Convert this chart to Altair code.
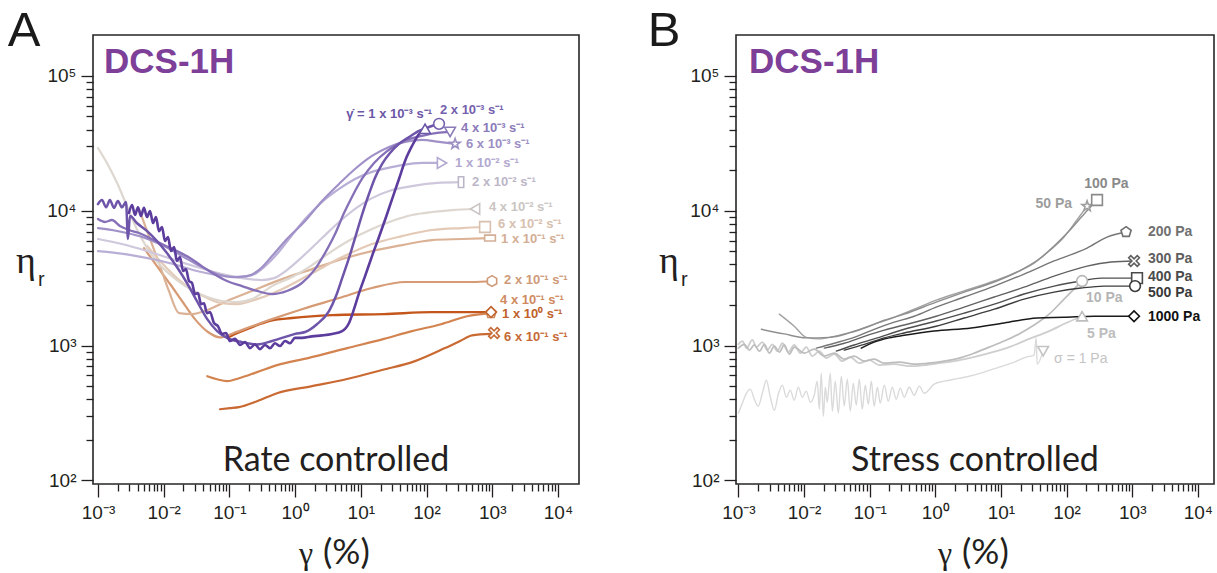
import altair as alt
import pandas as pd

INK = "#231f20"

# ---------------- Panel A : rate controlled ----------------
rate_names = ["1e-3", "2e-3", "4e-3", "6e-3", "1e-2", "2e-2", "4e-2", "6e-2",
              "1e-1", "2e-1", "4e-1", "6e-1", "1e0"]

g_a1 = [2.96e-3, 3.30e-3, 3.66e-3, 4.06e-3, 4.51e-3, 5.01e-3, 5.57e-3, 6.19e-3, 6.87e-3, 7.63e-3,
        8.47e-3, 9.42e-3, 1.047e-2, 1.163e-2, 1.29e-2, 1.44e-2, 1.59e-2, 1.77e-2, 1.97e-2, 2.18e-2,
        2.43e-2, 2.70e-2, 2.99e-2, 3.33e-2, 3.70e-2, 4.10e-2, 4.56e-2, 5.07e-2, 5.83e-2, 6.71e-2,
        7.7e-2, 8.87e-2, 0.102, 0.122, 0.145, 0.173, 0.206, 0.245, 0.292, 0.348, 0.415, 0.494,
        0.589, 0.702, 0.836, 0.995, 1.27, 1.81, 2.57, 3.65, 5.2, 6.61, 7.87, 9.39, 11.6, 14.8,
        18.9, 24.2, 29.9, 38.1, 47.1, 60.1, 76.9, 94.9]
eta_a1 = [9.62e3, 1.10e4, 9.29e3, 1.06e4, 9.14e3, 1.05e4, 8.98e3, 9.96e3, 8.11e3, 8.98e3,
          7.06e3, 7.57e3, 5.96e3, 6.38e3, 5.02e3, 5.38e3, 4.24e3, 4.53e3, 3.57e3, 3.69e3,
          3.01e3, 2.91e3, 2.41e3, 2.45e3, 2.03e3, 2.06e3, 1.74e3, 1.77e3, 1.47e3, 1.39e3,
          1.22e3, 1.24e3, 1.08e3, 1.12e3, 1.01e3, 1.06e3, 957, 1.02e3, 940, 1.01e3, 957, 1.04e3,
          991, 1.08e3, 1.04e3, 1.14e3, 1.14e3, 1.17e3, 1.19e3, 1.22e3, 1.28e3, 1.47e3, 1.86e3,
          2.45e3, 3.27e3, 4.61e3, 6.38e3, 8.98e3, 1.22e4, 1.72e4, 2.34e4, 3.02e4, 3.71e4, 4.05e4]

g_a2 = [1.0e-3, 1.15e-3, 1.33e-3, 1.52e-3, 1.75e-3, 2.01e-3, 2.32e-3, 2.67e-3, 2.86e-3, 3.07e-3,
        3.9e-3, 5.6e-3, 7.9e-3, 1.12e-2, 1.59e-2, 2.26e-2, 3.2e-2, 4.6e-2, 6.5e-2, 9.2e-2, 0.156,
        0.263, 0.445, 0.75, 0.995, 1.42, 2.15, 3.28, 4.19, 5.2, 6.61, 8.16, 10.4, 13.3, 16.4, 21.0,
        27.8, 38.1, 54.1, 76.9, 109, 155]
eta_a2 = [1.12e4, 1.20e4, 1.06e4, 1.20e4, 1.05e4, 1.18e4, 1.06e4, 1.16e4, 6.17e3, 9.14e3,
          8.11e3, 7.06e3, 5.96e3, 4.85e3, 3.82e3, 2.91e3, 2.14e3, 1.57e3, 1.28e3, 1.14e3, 1.06e3,
          1.02e3, 1.08e3, 1.17e3, 1.22e3, 1.26e3, 1.44e3, 1.80e3, 2.33e3, 3.16e3, 4.46e3, 6.27e3,
          9.29e3, 1.33e4, 1.75e4, 2.22e4, 2.68e4, 3.13e4, 3.52e4, 3.91e4, 4.18e4, 4.41e4]

g_a3 = [1.0e-3, 1.28e-3, 1.63e-3, 2.16e-3, 2.96e-3, 4.21e-3, 6.6e-3, 1.01e-2, 1.59e-2, 2.51e-2,
        3.8e-2, 5.83e-2, 9.2e-2, 0.156, 0.263, 0.445, 0.75, 1.27, 2.01, 2.85, 4.05, 5.55, 7.3,
        10.4, 15.9, 25.1, 42.4, 85.4, 145, 228]
eta_a3 = [8.68e3, 8.25e3, 8.53e3, 7.70e3, 7.19e3, 6.83e3, 6.17e3, 5.56e3, 5.02e3, 4.46e3,
          3.88e3, 3.39e3, 3.01e3, 2.76e3, 2.54e3, 2.41e3, 2.54e3, 2.91e3, 3.69e3, 4.85e3, 6.71e3,
          9.62e3, 1.26e4, 1.72e4, 2.26e4, 2.77e4, 3.24e4, 3.59e4, 3.78e4, 3.84e4]

g_a4 = [1.0e-3, 1.63e-3, 2.76e-3, 4.7e-3, 9.4e-3, 1.90e-2, 3.8e-2, 6.5e-2, 0.110, 0.185, 0.292,
        0.445, 0.75, 1.42, 2.57, 4.66, 8.16, 14.8, 26.9, 47.1, 85.4, 155, 272]
eta_a4 = [7.44e3, 7.19e3, 6.83e3, 6.38e3, 5.56e3, 4.61e3, 3.82e3, 3.39e3, 3.22e3, 3.27e3, 3.69e3,
          4.61e3, 6.17e3, 8.39e3, 1.18e4, 1.58e4, 2.04e4, 2.55e4, 2.97e4, 3.24e4, 3.35e4, 3.24e4,
          3.13e4]

g_a5 = [1.0e-3, 1.95e-3, 3.9e-3, 7.9e-3, 1.59e-2, 3.2e-2, 6.5e-2, 0.131, 0.221, 0.336, 0.53,
        0.808, 1.42, 2.57, 4.66, 8.16, 14.8, 25.1, 42.4, 85.4, 172]
eta_a5 = [5.02e3, 4.85e3, 4.61e3, 4.31e3, 3.95e3, 3.57e3, 3.33e3, 3.22e3, 3.33e3, 3.82e3, 4.77e3,
          6.17e3, 8.68e3, 1.16e4, 1.45e4, 1.72e4, 1.94e4, 2.07e4, 2.18e4, 2.26e4, 2.26e4]

g_a6 = [1.0e-3, 2.32e-3, 5.6e-3, 1.34e-2, 3.2e-2, 7.7e-2, 0.156, 0.313, 0.477, 0.75, 1.27, 2.57,
        4.66, 8.8, 14.8, 26.9, 60.1, 145, 335]
eta_a6 = [6.17e3, 5.66e3, 5.02e3, 4.38e3, 3.82e3, 3.39e3, 3.16e3, 3.06e3, 3.16e3, 3.63e3, 4.53e3,
          6.27e3, 8.25e3, 1.06e4, 1.24e4, 1.40e4, 1.52e4, 1.61e4, 1.63e4]

g_a7 = [1.0e-3, 1.37e-3, 1.95e-3, 2.76e-3, 3.9e-3, 5.6e-3, 9.4e-3, 1.59e-2, 2.70e-2, 4.6e-2,
        7.7e-2, 0.131, 0.221, 0.445, 0.90, 1.81, 3.65, 7.3, 14.8, 29.9, 60.1, 121, 244, 547]
eta_a7 = [2.92e4, 2.26e4, 1.61e4, 1.08e4, 7.31e3, 5.28e3, 3.82e3, 3.06e3, 2.58e3, 2.29e3,
          2.14e3, 2.10e3, 2.21e3, 2.76e3, 3.22e3, 3.95e3, 5.02e3, 6.17e3, 7.31e3, 8.39e3, 9.29e3,
          9.78e3, 1.01e4, 1.03e4]

g_a8 = [5.6e-3, 9.4e-3, 1.59e-2, 2.70e-2, 4.6e-2, 7.7e-2, 0.131, 0.263, 0.63, 1.81, 5.2, 14.8,
        42.4, 121, 347, 776]
eta_a8 = [5.47e3, 4.09e3, 3.16e3, 2.58e3, 2.25e3, 2.06e3, 2.03e3, 2.21e3, 2.62e3, 3.44e3, 4.53e3,
          5.66e3, 6.48e3, 7.19e3, 7.44e3, 7.57e3]

g_a9 = [4.21e-3, 5.97e-3, 8.47e-3, 1.20e-2, 1.71e-2, 2.70e-2, 4.6e-2, 9.2e-2, 0.221, 0.63, 1.81,
        5.2, 14.8, 42.4, 121, 347, 925]
eta_a9 = [1.03e4, 6.48e3, 4.09e3, 2.54e3, 1.74e3, 1.71e3, 1.83e3, 2.14e3, 2.54e3, 3.11e3, 3.69e3,
          4.38e3, 5.02e3, 5.56e3, 6.06e3, 6.17e3, 6.27e3]

g_a10 = [5.01e-3, 7.9e-3, 1.25e-2, 1.90e-2, 2.99e-2, 4.72e-2, 7.19e-2, 0.117, 0.221, 0.445, 1.27,
         4.66, 14.8, 47.1, 244, 493, 993]
eta_a10 = [5.28e3, 3.88e3, 2.86e3, 2.14e3, 1.57e3, 1.26e3, 1.15e3, 1.24e3, 1.39e3, 1.57e3, 1.86e3,
           2.25e3, 2.67e3, 2.96e3, 2.96e3, 2.96e3, 3.01e3]

g_a11 = [4.6e-2, 6.5e-2, 9.2e-2, 0.140, 0.263, 0.53, 1.57, 6.2, 22.5, 60.1, 166, 413, 959]
eta_a11 = [592, 562, 544, 572, 635, 716, 807, 957, 1.12e3, 1.28e3, 1.44e3, 1.65e3, 1.74e3]

g_a12 = [7.19e-2, 0.102, 0.140, 0.263, 0.53, 1.81, 5.96, 21.0, 66.8, 191, 324, 493, 959]
eta_a12 = [337, 343, 349, 386, 443, 500, 562, 658, 766, 957, 1.08e3, 1.19e3, 1.22e3]

g_a13 = [9.2e-2, 0.145, 0.237, 0.401, 0.90, 3.65, 22.5, 121, 959]
eta_a13 = [1.14e3, 1.26e3, 1.39e3, 1.52e3, 1.60e3, 1.68e3, 1.71e3, 1.77e3, 1.77e3]

rate_labels = ["γ̇ = 1 x 10⁻³ s⁻¹", "2 x 10⁻³ s⁻¹", "4 x 10⁻³ s⁻¹", "6 x 10⁻³ s⁻¹",
               "1 x 10⁻² s⁻¹", "2 x 10⁻² s⁻¹", "4 x 10⁻² s⁻¹", "6 x 10⁻² s⁻¹",
               "1 x 10⁻¹ s⁻¹", "2 x 10⁻¹ s⁻¹", "4 x 10⁻¹ s⁻¹", "6 x 10⁻¹ s⁻¹", "1 x 10⁰ s⁻¹"]
rate_label_g = [121, 160, 335, 399, 272, 493, 893, 1225, 1361, 1512, 1315, 1512, 1409]
rate_label_eta = [5.22e4, 5.60e4, 4.11e4, 3.13e4, 2.26e4, 1.63e4, 1.06e4, 7.97e3, 6.17e3,
                  3.06e3, 2.17e3, 1.15e3, 1.71e3]
rate_marker_g = [94.9, 155, 228, 272, 172, 335, 547, 776, 925, 993, 959, 1065, 959]
rate_marker_eta = [4.05e4, 4.41e4, 3.84e4, 3.13e4, 2.26e4, 1.63e4, 1.03e4, 7.57e3, 6.27e3,
                   3.01e3, 1.74e3, 1.24e3, 1.77e3]

# ---------------- Panel B : stress controlled ----------------
stress_names = ["1 Pa", "5 Pa", "10 Pa", "50 Pa", "100 Pa", "200 Pa", "300 Pa", "400 Pa",
                "500 Pa", "1000 Pa"]

g_b1 = [1.0e-3, 1.15e-3, 1.33e-3, 1.52e-3, 1.75e-3, 2.01e-3, 2.32e-3, 2.67e-3, 3.07e-3, 3.53e-3,
        4.06e-3, 4.68e-3, 5.38e-3, 6.18e-3, 7.1e-3, 8.18e-3, 9.42e-3, 1.08e-2, 1.25e-2, 1.43e-2,
        1.59e-2, 1.71e-2, 1.83e-2, 1.97e-2, 2.11e-2, 2.26e-2, 2.51e-2, 2.70e-2, 2.99e-2, 3.33e-2,
        3.70e-2, 4.1e-2, 4.56e-2, 5.07e-2, 5.62e-2, 6.25e-2, 6.95e-2, 7.71e-2, 8.57e-2, 9.53e-2,
        0.106, 0.117, 0.131, 0.145, 0.167, 0.192, 0.221, 0.254, 0.292, 0.336, 0.401, 0.477, 0.569,
        0.678, 0.96, 1.36, 1.94, 3.28, 5.55, 9.39, 15.9, 24.2, 32.0, 34.4, 35.6, 43.9]
eta_b1 = [315, 374, 443, 475, 400, 355, 443, 553, 414, 331, 436, 509, 414, 467, 393, 491, 414,
          459, 380, 428, 544, 337, 624, 299, 491, 380,
          624, 326, 544, 315, 592, 355, 562, 326, 526, 361, 562, 337, 509, 367, 544, 355, 491,
          374, 509, 386, 491, 400, 483, 414, 491, 428, 500, 443, 517,
          544, 562, 592, 635, 691, 753, 821, 849, 1140, 728, 909]

g_b2 = [1.0e-3, 1.15e-3, 1.33e-3, 1.63e-3, 1.88e-3, 2.32e-3, 2.76e-3, 3.30e-3, 3.93e-3, 4.68e-3,
        5.77e-3, 7.1e-3, 8.79e-3, 1.08e-2, 1.34e-2, 1.71e-2, 2.18e-2, 2.89e-2, 3.83e-2, 5.07e-2,
        6.95e-2, 9.87e-2, 0.140, 0.237, 0.401, 0.678, 1.15, 1.94, 3.28, 6.61, 13.3, 26.9, 54.2,
        98.2, 172]
eta_b2 = [1.02e3, 1.08e3, 957, 1.10e3, 973, 1.06e3, 925, 1.02e3, 909, 1.04e3, 894, 1.01e3, 879,
          973, 835, 909, 807, 864, 766, 821, 740, 780, 716, 728, 703, 716, 740, 766, 807, 879,
          973, 1.12e3, 1.28e3, 1.47e3, 1.65e3]

g_b3 = [1.0e-3, 1.23e-3, 1.47e-3, 1.75e-3, 2.09e-3, 2.49e-3, 2.96e-3, 3.53e-3, 4.21e-3, 5.0e-3,
        5.97e-3, 7.1e-3, 1.01e-2, 1.43e-2, 2.04e-2, 2.89e-2, 4.1e-2, 5.8e-2, 8.3e-2, 0.117, 0.167,
        0.283, 0.477, 0.807, 1.36, 2.31, 3.91, 6.61, 11.2, 18.9, 32.0, 54.2, 91.6, 172]
eta_b3 = [957, 1.02e3, 925, 1.01e3, 909, 1.02e3, 879, 991, 894, 1.01e3, 864, 973, 879, 940, 835,
          879, 793, 835, 766, 793, 740, 753, 728, 740, 766, 807, 879, 973, 1.08e3, 1.22e3,
          1.42e3, 1.71e3, 2.21e3, 3.01e3]

g_b4 = [4.21e-3, 7.1e-3, 1.08e-2, 1.71e-2, 2.89e-2, 5.8e-2, 0.117, 0.237, 0.477, 1.03, 2.75, 7.9,
        15.9, 32.0, 54.2, 91.6, 140, 205]
eta_b4 = [1.71e3, 1.39e3, 1.15e3, 1.12e3, 1.17e3, 1.28e3, 1.44e3, 1.62e3, 1.86e3, 2.17e3, 2.54e3,
          3.01e3, 3.44e3, 4.09e3, 5.02e3, 6.38e3, 8.39e3, 1.08e4]

g_b5 = [2.24e-3, 5.0e-3, 1.08e-2, 2.43e-2, 4.89e-2, 9.87e-2, 0.167, 0.336, 1.03, 2.75, 7.9, 18.9,
        38.1, 64.5, 109, 185, 291]
eta_b5 = [1.32e3, 1.22e3, 1.14e3, 1.15e3, 1.24e3, 1.39e3, 1.54e3, 1.71e3, 2.10e3, 2.49e3, 2.96e3,
          3.57e3, 4.38e3, 5.47e3, 7.06e3, 9.46e3, 1.20e4]

g_b6 = [1.54e-2, 2.89e-2, 5.8e-2, 0.117, 0.237, 0.477, 1.03, 2.75, 7.9, 22.5, 64.5, 205, 413, 805]
eta_b6 = [957, 1.04e3, 1.15e3, 1.32e3, 1.49e3, 1.65e3, 1.93e3, 2.29e3, 2.76e3, 3.39e3, 4.24e3,
          5.28e3, 6.38e3, 6.95e3]

g_b7 = [2.04e-2, 4.1e-2, 8.3e-2, 0.167, 0.336, 1.03, 2.75, 7.9, 22.5, 64.5, 205, 475, 1065]
eta_b7 = [957, 1.04e3, 1.17e3, 1.30e3, 1.42e3, 1.65e3, 1.93e3, 2.29e3, 2.71e3, 3.27e3, 3.88e3,
          4.16e3, 4.24e3]

g_b8 = [3.10e-2, 5.8e-2, 0.117, 0.336, 1.03, 2.75, 7.9, 22.5, 64.5, 166, 335, 1183]
eta_b8 = [909, 1.01e3, 1.12e3, 1.32e3, 1.52e3, 1.74e3, 2.03e3, 2.41e3, 2.76e3, 3.01e3, 3.16e3,
          3.16e3]

g_b9 = [4.1e-2, 8.3e-2, 0.167, 0.336, 1.03, 2.75, 7.9, 22.5, 64.5, 166, 372, 1104]
eta_b9 = [925, 1.02e3, 1.14e3, 1.24e3, 1.39e3, 1.60e3, 1.86e3, 2.21e3, 2.49e3, 2.67e3, 2.76e3,
          2.76e3]

g_b10 = [7.45e-2, 0.117, 0.199, 0.336, 0.96, 3.52, 11.2, 35.6, 91.6, 262, 1065]
eta_b10 = [957, 1.06e3, 1.14e3, 1.19e3, 1.28e3, 1.35e3, 1.47e3, 1.60e3, 1.62e3, 1.65e3, 1.65e3]

stress_labels = ["σ = 1 Pa", "5 Pa", "10 Pa", "50 Pa", "100 Pa", "200 Pa", "300 Pa", "400 Pa",
                 "500 Pa", "1000 Pa"]
stress_label_g = [64.5, 205, 198, 121, 185, 1739, 1739, 1739, 1739, 1739]
stress_label_eta = [793, 1.22e3, 2.25e3, 1.12e4, 1.58e4, 6.95e3, 4.38e3, 3.22e3, 2.45e3, 1.62e3]
stress_marker_g = [43.9, 172, 172, 205, 291, 805, 1065, 1183, 1104, 1065]
stress_marker_eta = [909, 1.65e3, 3.01e3, 1.08e4, 1.20e4, 6.95e3, 4.24e3, 3.16e3, 2.76e3, 1.65e3]

# ---------------- axes ----------------
x_major = [0.001, 0.01, 0.1, 1, 10, 100, 1000, 10000]
x_major_labels = ["10⁻³", "10⁻²", "10⁻¹", "10⁰", "10¹", "10²", "10³", "10⁴"]
y_major = [100, 1000, 10000, 100000]
y_major_labels = ["10²", "10³", "10⁴", "10⁵"]
minor_steps = [2, 3, 4, 5, 6, 7, 8, 9]

# ---------------- styles ----------------
STAR = "M0,-1L0.236,-0.325L0.951,-0.309L0.382,0.124L0.588,0.809L0,0.4L-0.588,0.809L-0.382,0.124L-0.951,-0.309L-0.236,-0.325Z"
PENT = "M0,-1L0.951,-0.309L0.588,0.809L-0.588,0.809L-0.951,-0.309Z"
HEX = "M0,-1L0.866,-0.5L0.866,0.5L0,1L-0.866,0.5L-0.866,-0.5Z"
TALL = "M-0.5,-1L0.5,-1L0.5,1L-0.5,1Z"
WIDE = "M-1,-0.55L1,-0.55L1,0.55L-1,0.55Z"
XMARK = "M-1,-0.6L-0.6,-1L0,-0.4L0.6,-1L1,-0.6L0.4,0L1,0.6L0.6,1L0,0.4L-0.6,1L-1,0.6L-0.4,0Z"

rate_line_colors = ["#5c3d9e", "#6e55aa", "#8670b8", "#a090c8", "#b9aed6", "#cfc8dc", "#ddd7d0",
                    "#e4cab6", "#dbb295", "#d69a74", "#d2834f", "#ca6a33", "#c4561c"]
rate_line_widths = [2.6, 2.5, 2.3, 2.2, 2.2, 2.2, 2.2, 2.2, 2.2, 2.2, 2.2, 2.2, 2.4]
rate_text_colors = ["#6b56a7", "#7460ad", "#8a7bb8", "#9c8fc3", "#b2a8cf", "#bdb6c8", "#cac5c2",
                    "#d8c0b0", "#d3ae95", "#cf9a78", "#cf8a60", "#c66a35", "#c0622a"]
rate_shapes = ["triangle-up", "circle", "triangle-down", STAR, "triangle-right", TALL,
               "triangle-left", "square", WIDE, HEX, PENT, XMARK, "diamond"]

stress_line_colors = ["#dadada", "#cecece", "#bdbdbd", "#a2a2a2", "#8e8e8e", "#767676", "#626262",
                      "#4f4f4f", "#3d3d3d", "#1a1a1a"]
stress_line_widths = [1.4, 1.8, 1.7, 1.4, 1.4, 1.4, 1.4, 1.4, 1.4, 1.5]
stress_text_colors = ["#c4c4c4", "#bdbdbd", "#b5b5b5", "#9d9d9d", "#8a8a8a", "#707070", "#5e5e5e",
                      "#4a4a4a", "#3a3a3a", "#111111"]
stress_shapes = ["triangle-down", "triangle-up", "circle", STAR, "square", PENT, XMARK, "square",
                 "circle", "diamond"]

Y_DOMAIN = [94, 2.01e5]


def build_lines(names, gs, etas, colors, widths, order):
    rows = []
    for k in order:
        g, e = gs[k], etas[k]
        assert len(g) == len(e), names[k]
        for gv, ev in zip(g, e):
            rows.append({"s": f"{k:02d} {names[k]}", "g": gv, "eta": ev,
                         "c": colors[k], "w": widths[k]})
    return pd.DataFrame(rows)


def log_axis(majors, labels, minors, major_len, minor_len, pad):
    expr = ""
    for v, lab in zip(majors, labels):
        expr += f"datum.value == {v} ? '{lab}' : "
    expr += "''"
    test = " || ".join(f"datum.value == {v}" for v in majors)
    return alt.Axis(values=sorted(majors + minors), labelExpr=expr, title=None, domain=False,
                    grid=False, tickSize={"condition": {"test": test, "value": major_len},
                                          "value": minor_len},
                    tickColor=INK, tickWidth=1.3, labelColor=INK, labelFont="Liberation Sans",
                    labelFontSize=19, labelPadding=pad, labelFlush=False, labelOverlap=False)


x_minor = [m * v for v in x_major[:-1] for m in minor_steps]
y_minor = [m * v for v in y_major[:-1] for m in minor_steps]
X_AXIS = log_axis(x_major, x_major_labels, x_minor, 13, 7, 6)
Y_AXIS = log_axis(y_major, y_major_labels, y_minor, 12, 7, 5)


def note(text, x, y, size, font="Liberation Sans", weight="normal", color=INK, align="center"):
    return alt.Chart(pd.DataFrame({"t": [text]})).mark_text(
        align=align, baseline="alphabetic", fontSize=size, font=font, fontWeight=weight,
        color=color).encode(text="t:N", x=alt.value(x), y=alt.value(y))


def make_panel(width, xdom, lines_df, mk_df, lab_df, letter, caption, dcs_x, letter_x):
    xs = alt.Scale(type="log", domain=xdom, nice=False)
    ys = alt.Scale(type="log", domain=Y_DOMAIN, nice=False)
    X = alt.X("g:Q", scale=xs, axis=X_AXIS)
    Y = alt.Y("eta:Q", scale=ys, axis=Y_AXIS)

    lines = alt.Chart(lines_df).mark_line(interpolate="monotone", strokeJoin="round",
                                          strokeCap="round").encode(
        x=X, y=Y, detail="s:N", color=alt.Color("c:N", scale=None),
        strokeWidth=alt.StrokeWidth("w:Q", scale=None))
    marks = alt.Chart(mk_df).mark_point(filled=True, fill="white", strokeWidth=1.6, size=115,
                                        opacity=1).encode(
        x=X, y=Y, shape=alt.Shape("shape:N", scale=None), stroke=alt.Stroke("c:N", scale=None))
    layers = [lines, marks]
    for (al, wt, fs), sub in lab_df.groupby(["align", "weight", "fs"]):
        layers.append(alt.Chart(sub).mark_text(align=al, baseline="middle", fontSize=fs,
                                               fontWeight=wt, font="Liberation Sans").encode(
            x=X, y=Y, text="t:N", color=alt.Color("c:N", scale=None)))
    layers += [
        note(letter, letter_x, 11, 49, color="#1a1a1a"),
        note("DCS-1H", dcs_x, 38, 35, weight="bold", color="#7d3f98", align="left"),
        note("η", -67, 238, 38, font="Liberation Serif"),
        note("r", -55, 251, 20, align="left"),
        note(caption, width / 2, 436, 34, font="Lato"),
        note("γ", width / 2 - 30, 529, 32, font="Liberation Serif"),
        note("(%)", width / 2 - 13, 529, 35, font="Lato", align="left"),
    ]
    return alt.layer(*layers).properties(width=width, height=449)


rate_order = list(range(len(rate_names)))[::-1]
lines_A = build_lines(rate_names, [g_a1, g_a2, g_a3, g_a4, g_a5, g_a6, g_a7, g_a8, g_a9, g_a10,
                                   g_a11, g_a12, g_a13],
                      [eta_a1, eta_a2, eta_a3, eta_a4, eta_a5, eta_a6, eta_a7, eta_a8, eta_a9,
                       eta_a10, eta_a11, eta_a12, eta_a13],
                      rate_line_colors, rate_line_widths, rate_order)
mk_A = pd.DataFrame({"g": rate_marker_g, "eta": rate_marker_eta, "shape": rate_shapes,
                     "c": rate_text_colors})
lab_A = pd.DataFrame({"g": rate_label_g, "eta": rate_label_eta, "t": rate_labels,
                      "c": rate_text_colors,
                      "align": ["right"] + ["left"] * 12, "weight": ["bold"] * 13,
                      "fs": [13] * 13})

stress_order = list(range(len(stress_names)))
lines_B = build_lines(stress_names, [g_b1, g_b2, g_b3, g_b4, g_b5, g_b6, g_b7, g_b8, g_b9, g_b10],
                      [eta_b1, eta_b2, eta_b3, eta_b4, eta_b5, eta_b6, eta_b7, eta_b8, eta_b9,
                       eta_b10],
                      stress_line_colors, stress_line_widths, stress_order)
mk_B = pd.DataFrame({"g": stress_marker_g, "eta": stress_marker_eta, "shape": stress_shapes,
                     "c": stress_text_colors})
lab_B = pd.DataFrame({"g": stress_label_g, "eta": stress_label_eta, "t": stress_labels,
                      "c": stress_text_colors,
                      "align": ["left", "left", "left", "right"] + ["left"] * 6,
                      "weight": ["normal"] + ["bold"] * 9,
                      "fs": [14] * 10})

panel_A = make_panel(486, [8.4e-4, 2.09e4], lines_A, mk_A, lab_A, "A", "Rate controlled", 11, -69)
panel_B = make_panel(478, [9.2e-4, 1.76e4], lines_B, mk_B, lab_B, "B", "Stress controlled", 13, -72)

chart = alt.hconcat(panel_A, panel_B, spacing=66).properties(
    padding={"left": 6, "top": 6, "right": 0, "bottom": 0},
    background="white",
).configure_view(stroke="#262626", strokeWidth=1.6)

chart.save("out.html", embed_options={"renderer": "svg", "actions": False})
